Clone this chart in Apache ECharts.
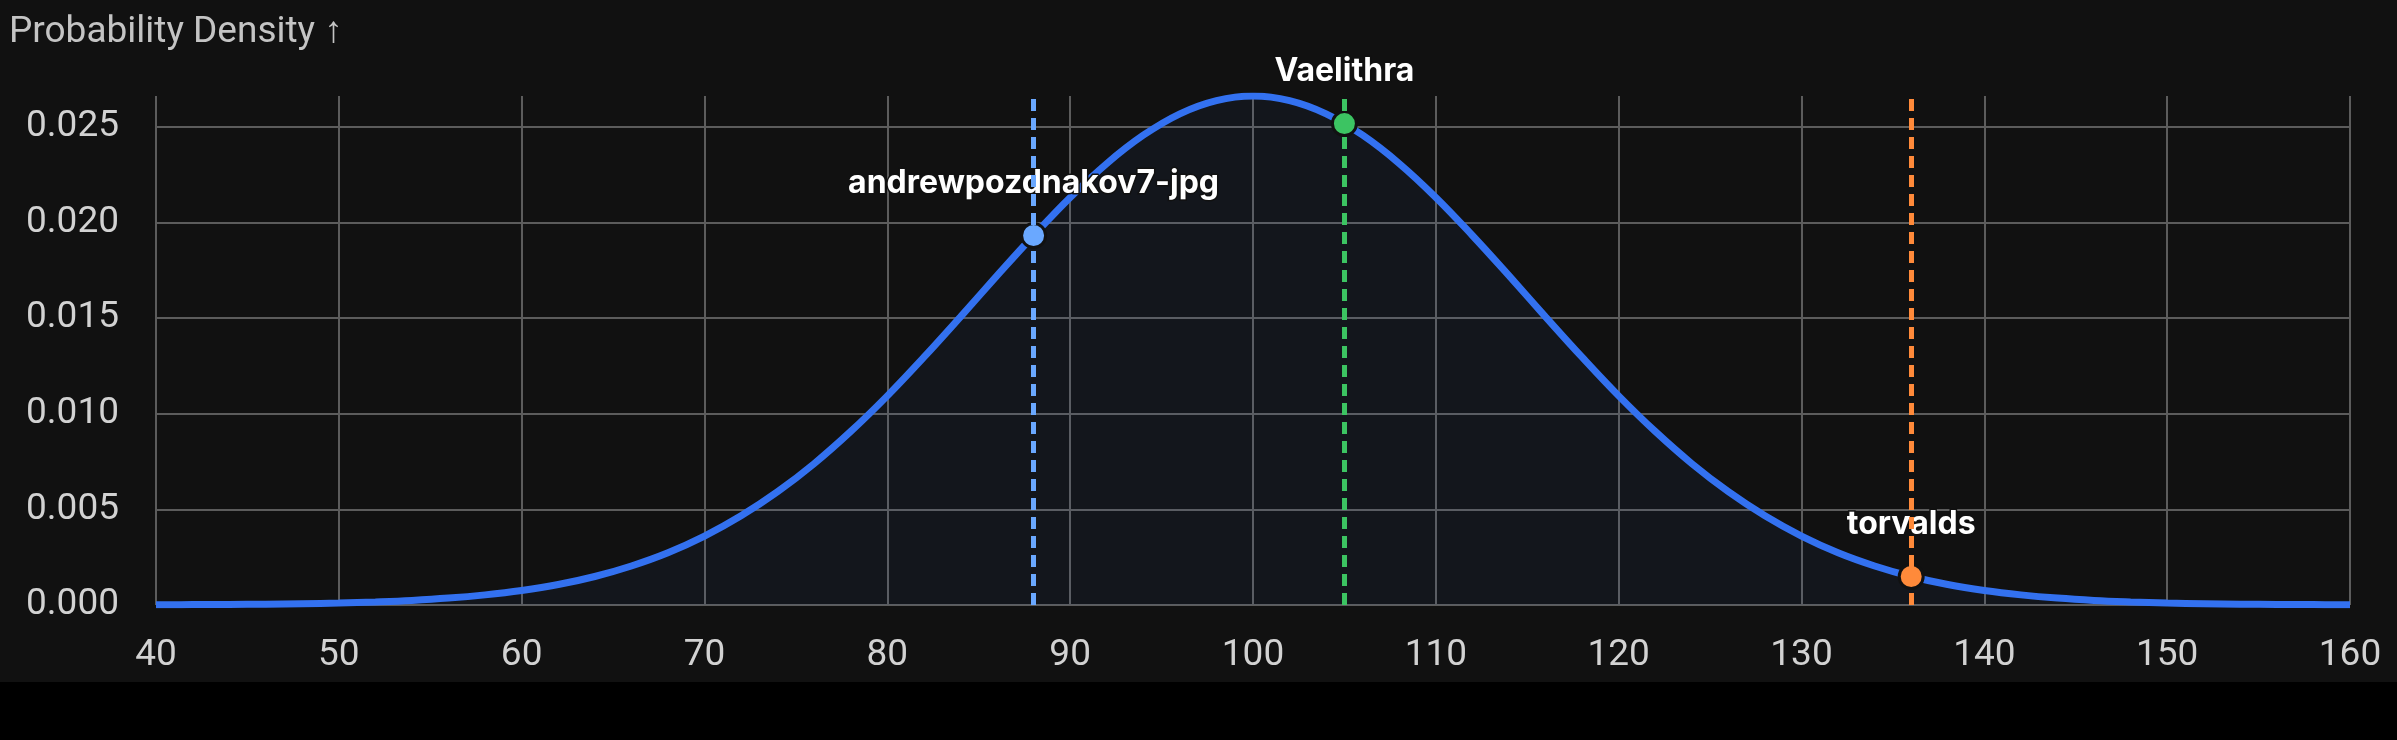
<!DOCTYPE html>
<html>
<head>
<meta charset="utf-8">
<script src="https://cdn.jsdelivr.net/npm/echarts@6/dist/echarts.min.js"></script>
<style>
  html, body { margin: 0; padding: 0; background: #000; }
  #chart { width: 2397px; height: 682px; background: #111111; }
</style>
</head>
<body>
<div id="chart"></div>
<script>
// curve (x score, density)
const xs = [40, 42, 44, 46, 48, 50, 52, 54, 56, 58, 60, 62, 64, 66, 68, 70, 72, 74, 76, 78,
  80, 82, 84, 86, 88, 90, 92, 94, 96, 98, 100, 102, 104, 106, 108, 110, 112, 114, 116, 118,
  120, 122, 124, 126, 128, 130, 132, 134, 136, 138, 140, 142, 144, 146, 148, 150, 152, 154, 156, 158, 160]
const density = [0.00001, 0.00002, 0.00003, 0.00004, 0.00007, 0.00010, 0.00016, 0.00024, 0.00036, 0.00053,
  0.00076, 0.00107, 0.00149, 0.00204, 0.00273, 0.00360, 0.00466, 0.00592, 0.00739, 0.00907,
  0.01093, 0.01295, 0.01506, 0.01721, 0.01931, 0.02130, 0.02307, 0.02455, 0.02567, 0.02636,
  0.02660,
  0.02636, 0.02567, 0.02455, 0.02307, 0.02130, 0.01931, 0.01721, 0.01506, 0.01295, 0.01093,
  0.00907, 0.00739, 0.00592, 0.00466, 0.00360, 0.00273, 0.00204, 0.00149, 0.00107, 0.00076,
  0.00053, 0.00036, 0.00024, 0.00016, 0.00010, 0.00007, 0.00004, 0.00003, 0.00002, 0.00001]

// people marked on the curve
const people = ['andrewpozdnakov7-jpg', 'Vaelithra', 'torvalds']
const peopleX = [88, 105, 136]
const peopleY = [0.01931, 0.02516, 0.00149]
const peopleColors = ['#6aa8ff', '#3cc462', '#ff8a3a']

const chart = echarts.init(document.getElementById('chart'))

const gridColor = '#5c5c5c'
const labelColor = '#d2d2d2'

const option = {
  backgroundColor: '#111111',
  animation: false,
  title: {
    text: 'Probability Density \u2191',
    left: 4,
    top: 9,
    textStyle: { color: '#c4c4c4', fontSize: 37, fontWeight: 'normal', fontFamily: 'Roboto' }
  },
  grid: { left: 156, right: 47, top: 96, bottom: 77 },
  xAxis: {
    type: 'value',
    min: 40,
    max: 160,
    interval: 10,
    axisLine: { show: false },
    axisTick: { show: false },
    axisLabel: { color: labelColor, fontSize: 37, fontFamily: 'Roboto', margin: 32 },
    splitLine: { show: true, lineStyle: { color: gridColor, width: 2 } }
  },
  yAxis: {
    type: 'value',
    min: 0,
    max: 0.0266,
    interval: 0.005,
    axisLine: { show: false },
    axisTick: { show: false },
    axisLabel: {
      color: labelColor, fontSize: 37, fontFamily: 'Roboto', margin: 37,
      showMaxLabel: false,
      formatter: v => v.toFixed(3)
    },
    splitLine: { show: true, showMaxLine: false, lineStyle: { color: gridColor, width: 2 } }
  },
  series: [
    {
      name: 'density',
      type: 'line',
      z: 3,
      smooth: 0.4,
      showSymbol: false,
      data: xs.map((x, i) => [x, density[i]]),
      lineStyle: { color: '#3371f0', width: 7 },
      areaStyle: { color: 'rgba(51,113,240,0.07)' }
    },
    ...people.map((name, i) => ({
      name: name,
      type: 'scatter',
      z: 4,
      symbolSize: 24,
      data: [[peopleX[i], peopleY[i]]],
      itemStyle: { color: peopleColors[i], borderColor: '#111111', borderWidth: 3, opacity: 1 },
      label: {
        show: true,
        position: 'top',
        distance: 23,
        formatter: name,
        color: '#ffffff',
        fontSize: 32,
        fontWeight: 'bold',
        fontFamily: 'Inter',
        textBorderColor: '#111111',
        textBorderWidth: 3
      },
      markLine: {
        silent: true,
        symbol: 'none',
        label: { show: false },
        lineStyle: { color: peopleColors[i], type: [12, 7], width: 5, opacity: 1 },
        data: [{ xAxis: peopleX[i] }]
      }
    }))
  ]
}

chart.setOption(option)
</script>
</body>
</html>
